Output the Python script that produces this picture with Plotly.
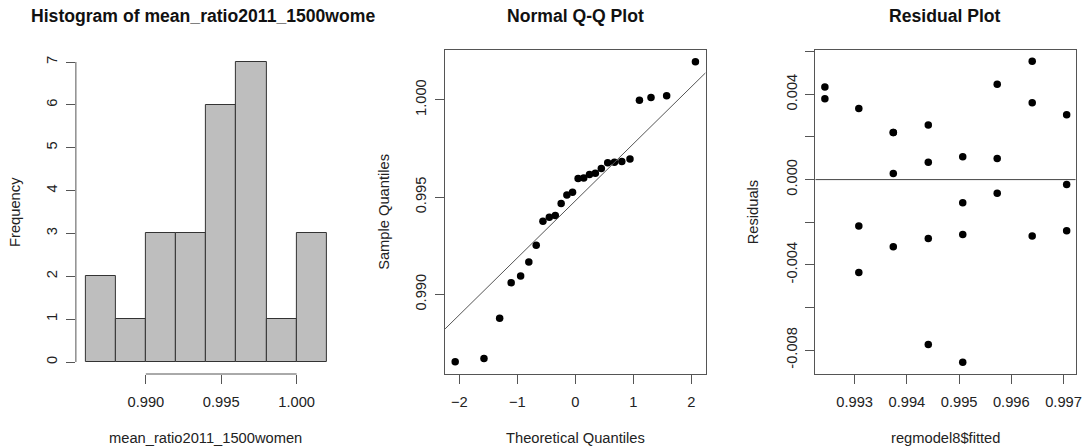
import numpy as np
import plotly.graph_objects as go

W, H = 1089, 448

# ---- data -------------------------------------------------------------
# histogram of mean_ratio2011_1500women
bin_edges = [0.986, 0.988, 0.990, 0.992, 0.994, 0.996, 0.998, 1.000, 1.002]
bin_counts = [2, 1, 3, 3, 6, 7, 1, 3]

# normal Q-Q: theoretical quantiles qnorm(ppoints(26)) and sorted sample
theoretical_q = [-2.070, -1.574, -1.304, -1.105, -0.942, -0.801, -0.674,
                 -0.558, -0.448, -0.345, -0.244, -0.145, -0.048,
                 0.048, 0.145, 0.244, 0.345, 0.448, 0.558, 0.674,
                 0.801, 0.942, 1.105, 1.304, 1.574, 2.070]
sample_q = [0.98654, 0.98671, 0.98877, 0.99060, 0.99094, 0.99166, 0.99252,
            0.99376, 0.99396, 0.99405, 0.99467, 0.99511, 0.99525, 0.99596,
            0.99598, 0.99616, 0.99623, 0.99647, 0.99677, 0.99679, 0.99683,
            0.99696, 0.99998, 1.00012, 1.00021, 1.00196]

# residuals vs fitted of regmodel8
fitted = [0.99243, 0.99243,
          0.99308, 0.99308, 0.99308,
          0.99374, 0.99374, 0.99374, 0.99374,
          0.99441, 0.99441, 0.99441, 0.99441,
          0.99507, 0.99507, 0.99507, 0.99507,
          0.99573, 0.99573, 0.99573,
          0.99640, 0.99640, 0.99640,
          0.99706, 0.99706, 0.99706]
residuals = [0.004345, 0.003796,
             0.003341, -0.002180, -0.004361,
             0.002212, 0.002212, 0.000282, -0.003153,
             0.002557, 0.000816, -0.002761, -0.007733,
             0.001067, -0.001082, -0.002573, -0.008565,
             0.004471, 0.000988, -0.000643,
             0.005553, 0.003608, -0.002651,
             0.003043, -0.000235, -0.002400]

hist_xticks = [0.990, 0.995, 1.000]
qq_xticks = [-2, -1, 0, 1, 2]
qq_yticks = [0.990, 0.995, 1.000]
res_xticks = [0.993, 0.994, 0.995, 0.996, 0.997]
res_yticks = [-0.008, -0.006, -0.004, -0.002, 0.000, 0.002, 0.004, 0.006]
res_ylabels = ["-0.008", "", "-0.004", "", "0.000", "", "0.004", ""]

# ---- styling ----------------------------------------------------------
FONT = "Liberation Sans, Arial, Helvetica, sans-serif"
TXT = "#222222"
LINE = "#555555"
FS = 14.7
TITLE_FS = 17.6


def px_x(a, b):
    return [a / W, b / W]


def px_y(top, bottom):
    return [1 - bottom / H, 1 - top / H]


PLOT_TOP, PLOT_BOTTOM = 50, 374
panels_x = [(76.3, 338.3), (447.5, 709.5), (820.0, 1081.5)]

fig = go.Figure()

# histogram bars
centers = [(bin_edges[i] + bin_edges[i + 1]) / 2 for i in range(len(bin_counts))]
widths = [bin_edges[i + 1] - bin_edges[i] for i in range(len(bin_counts))]
fig.add_trace(go.Bar(x=centers, y=bin_counts, width=widths,
                     marker=dict(color="#bebebe", line=dict(color="#333333", width=1)),
                     xaxis="x", yaxis="y", showlegend=False, hoverinfo="skip"))

# Q-Q points
fig.add_trace(go.Scatter(x=theoretical_q, y=sample_q, mode="markers",
                         marker=dict(color="black", size=7.5),
                         xaxis="x2", yaxis="y2", showlegend=False))

# qqline through the first and third quartiles
qq_xr = [-2.245, 2.245]
y25, y75 = np.quantile(sample_q, [0.25, 0.75])
z25, z75 = -0.6744898, 0.6744898
slope = (y75 - y25) / (z75 - z25)
icpt = y25 - slope * z25
fig.add_trace(go.Scatter(x=qq_xr, y=[icpt + slope * v for v in qq_xr], mode="lines",
                         line=dict(color="#555555", width=1),
                         xaxis="x2", yaxis="y2", showlegend=False, hoverinfo="skip"))

# residual points
fig.add_trace(go.Scatter(x=fitted, y=residuals, mode="markers",
                         marker=dict(color="black", size=7.5),
                         xaxis="x3", yaxis="y3", showlegend=False))

axis_common = dict(showgrid=False, zeroline=False, ticks="outside", ticklen=9,
                   tickwidth=1, tickcolor=LINE, linecolor=LINE, linewidth=1,
                   tickfont=dict(family=FONT, size=FS, color=TXT),
                   ticklabelstandoff=5, fixedrange=True)
yaxis_common = dict(axis_common, tickangle=-90, ticklabelstandoff=3)

fig.update_layout(
    width=W, height=H,
    margin=dict(l=0, r=0, t=0, b=0),
    paper_bgcolor="white", plot_bgcolor="white",
    bargap=0,
    xaxis=dict(axis_common, domain=px_x(*panels_x[0]), range=[0.98536, 1.00264],
               tickvals=hist_xticks, ticktext=["0.990", "0.995", "1.000"],
               showline=False, anchor="y"),
    yaxis=dict(yaxis_common, domain=px_y(PLOT_TOP, PLOT_BOTTOM), range=[-0.28, 7.28],
               tickvals=list(range(8)), showline=False, anchor="x"),
    xaxis2=dict(axis_common, domain=px_x(*panels_x[1]), range=qq_xr,
                tickvals=qq_xticks, showline=True, mirror=True, anchor="y2"),
    yaxis2=dict(yaxis_common, domain=px_y(PLOT_TOP, PLOT_BOTTOM), range=[0.98591, 1.00256],
                tickvals=qq_yticks, ticktext=["0.990", "0.995", "1.000"],
                showline=True, mirror=True, anchor="x2"),
    xaxis3=dict(axis_common, domain=px_x(*panels_x[2]), range=[0.99225, 0.99723],
                tickvals=res_xticks, ticktext=["0.993", "0.994", "0.995", "0.996", "0.997"],
                showline=True, mirror=True, anchor="y3"),
    yaxis3=dict(yaxis_common, domain=px_y(PLOT_TOP, PLOT_BOTTOM), range=[-0.00912, 0.00608],
                tickvals=res_yticks, ticktext=res_ylabels,
                showline=True, mirror=True, anchor="x3"),
)

# histogram axis lines only span the labelled ticks
fig.add_shape(type="line", xref="x", yref="y domain", x0=hist_xticks[0], x1=hist_xticks[-1],
              y0=0, y1=0, line=dict(color=LINE, width=1))
fig.add_shape(type="line", xref="x domain", yref="y", x0=0, x1=0, y0=0, y1=7,
              line=dict(color=LINE, width=1))

# horizontal reference line at zero residual
fig.add_shape(type="line", xref="x3 domain", yref="y3", x0=0, x1=1, y0=0, y1=0,
              line=dict(color="#444444", width=1))

# titles and axis labels
def ann(text, x, y, size=FS, bold=False, angle=0, xanchor="center"):
    fig.add_annotation(text=f"<b>{text}</b>" if bold else text,
                       x=x / W, y=1 - y / H, xref="paper", yref="paper",
                       xanchor=xanchor, yanchor="middle", showarrow=False,
                       textangle=angle,
                       font=dict(family=FONT, size=size, color="#111111" if bold else TXT))

ann("Histogram of mean_ratio2011_1500wome", 29, 16, TITLE_FS, True, xanchor="left")
ann("Normal Q-Q Plot", 578.5, 16, TITLE_FS, True)
ann("Residual Plot", 950.5, 16, TITLE_FS, True)

ann("mean_ratio2011_1500women", 206.5, 438)
ann("Theoretical Quantiles", 578.5, 438)
ann("regmodel8$fitted", 950.5, 438)

ann("Frequency", 15, 212, angle=-90)
ann("Sample Quantiles", 386, 212, angle=-90)
ann("Residuals", 757.5, 212, angle=-90)

fig.write_html("out.html")
